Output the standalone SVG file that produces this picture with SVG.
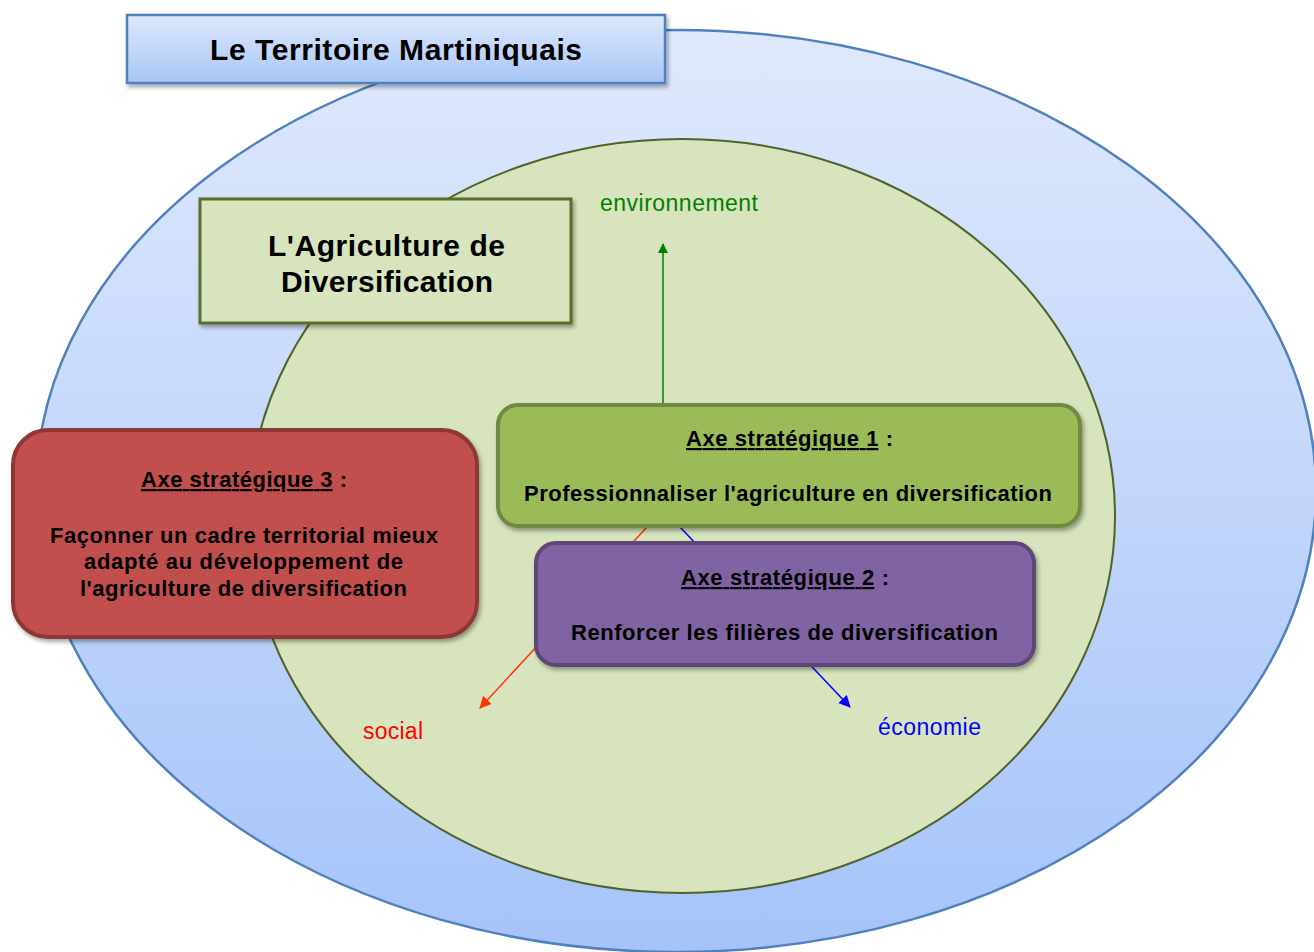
<svg xmlns="http://www.w3.org/2000/svg" width="1314" height="952" viewBox="0 0 1314 952">
<defs>
<linearGradient id="gBlue" x1="0" y1="0" x2="0" y2="1">
<stop offset="0" stop-color="#dfe9fd"/>
<stop offset="1" stop-color="#a6c3f9"/>
</linearGradient>
<linearGradient id="gTitle" x1="0" y1="0" x2="0" y2="1">
<stop offset="0" stop-color="#dde8fc"/>
<stop offset="1" stop-color="#a9c6f6"/>
</linearGradient>
<filter id="sh" x="-10%" y="-10%" width="120%" height="130%">
<feDropShadow dx="2" dy="3" stdDeviation="2" flood-color="#000" flood-opacity="0.35"/>
</filter>
<marker id="mG" markerWidth="10" markerHeight="10" refX="9" refY="5" orient="auto" markerUnits="userSpaceOnUse"><path d="M0,0 L10,5 L0,10 z" fill="#008000"/></marker>
<marker id="mR" markerWidth="12" markerHeight="12" refX="11" refY="6" orient="auto" markerUnits="userSpaceOnUse"><path d="M0,0 L12,6 L0,12 z" fill="#ff3300"/></marker>
<marker id="mB" markerWidth="12" markerHeight="12" refX="11" refY="6" orient="auto" markerUnits="userSpaceOnUse"><path d="M0,0 L12,6 L0,12 z" fill="#0000ff"/></marker>
</defs>
<style>
text{font-family:"Liberation Sans",Arial,sans-serif;font-weight:bold;fill:#000;text-anchor:middle}
.big{font-size:30px}
.axe{font-size:22px}
.u{text-decoration:underline}
.lbl{font-weight:normal;font-size:23px}
.box{filter:url(#sh)}
</style>
<g id="territoire">
<ellipse cx="676" cy="491" rx="640" ry="461" fill="url(#gBlue)" stroke="#4f81bd" stroke-width="2.5"/>
</g>
<g id="title">
<rect class="box" x="127" y="15" width="538" height="68" fill="url(#gTitle)" stroke="#4f81bd" stroke-width="2.5"/>
<text class="big" x="396" y="60" textLength="372" lengthAdjust="spacing">Le Territoire Martiniquais</text>
</g>
<g id="agri-ellipse">
<ellipse cx="682" cy="516" rx="433" ry="377" fill="#d8e4bd" stroke="#4f6228" stroke-width="2"/>
</g>
<g id="agriculture">
<rect class="box" x="200" y="199" width="371" height="124" fill="#d7e4bd" stroke="#5a6e2b" stroke-width="3"/>
<text class="big" x="386.5" y="256" textLength="237" lengthAdjust="spacing">L'Agriculture de</text>
<text class="big" x="387" y="292" textLength="212" lengthAdjust="spacing">Diversification</text>
</g>
<g id="connectors">
<line x1="663" y1="405" x2="663" y2="244" stroke="#008000" stroke-width="1.5" marker-end="url(#mG)"/>
<line x1="647" y1="527" x2="480" y2="708" stroke="#ff3300" stroke-width="1.5" marker-end="url(#mR)"/>
<line x1="680" y1="527" x2="850" y2="707" stroke="#0000ff" stroke-width="1.5" marker-end="url(#mB)"/>
</g>
<g id="labels">
<text class="lbl" x="679" y="211" textLength="158" lengthAdjust="spacing" style="fill:#008000">environnement</text>
<text class="lbl" x="393" y="739" textLength="60" lengthAdjust="spacing" style="fill:#ff0000">social</text>
<text class="lbl" x="929.5" y="735" textLength="103" lengthAdjust="spacing" style="fill:#0000ff">économie</text>
</g>
<g id="axe1">
<rect class="box" x="498" y="405" width="582" height="121" rx="20" fill="#9bbb59" stroke="#71893f" stroke-width="4"/>
<text class="axe" x="789.5" y="446" textLength="207" lengthAdjust="spacing"><tspan class="u">Axe stratégique 1</tspan> :</text>
<text class="axe" x="788" y="501" textLength="528" lengthAdjust="spacing">Professionnaliser l'agriculture en diversification</text>
</g>
<g id="axe2">
<rect class="box" x="536" y="543" width="498" height="122" rx="20" fill="#8064a2" stroke="#5c4776" stroke-width="4"/>
<text class="axe" x="785" y="585" textLength="208" lengthAdjust="spacing"><tspan class="u">Axe stratégique 2</tspan> :</text>
<text class="axe" x="784.5" y="640" textLength="427" lengthAdjust="spacing">Renforcer les filières de diversification</text>
</g>
<g id="axe3">
<rect class="box" x="13" y="430" width="464" height="207" rx="35" fill="#c0504d" stroke="#8c3836" stroke-width="4"/>
<text class="axe" x="244" y="487" textLength="206" lengthAdjust="spacing"><tspan class="u">Axe stratégique 3</tspan> :</text>
<text class="axe" x="244" y="543" textLength="388" lengthAdjust="spacing">Façonner un cadre territorial mieux</text>
<text class="axe" x="243.5" y="569" textLength="319" lengthAdjust="spacing">adapté au développement de</text>
<text class="axe" x="243.5" y="596" textLength="327" lengthAdjust="spacing">l'agriculture de diversification</text>
</g>
</svg>
